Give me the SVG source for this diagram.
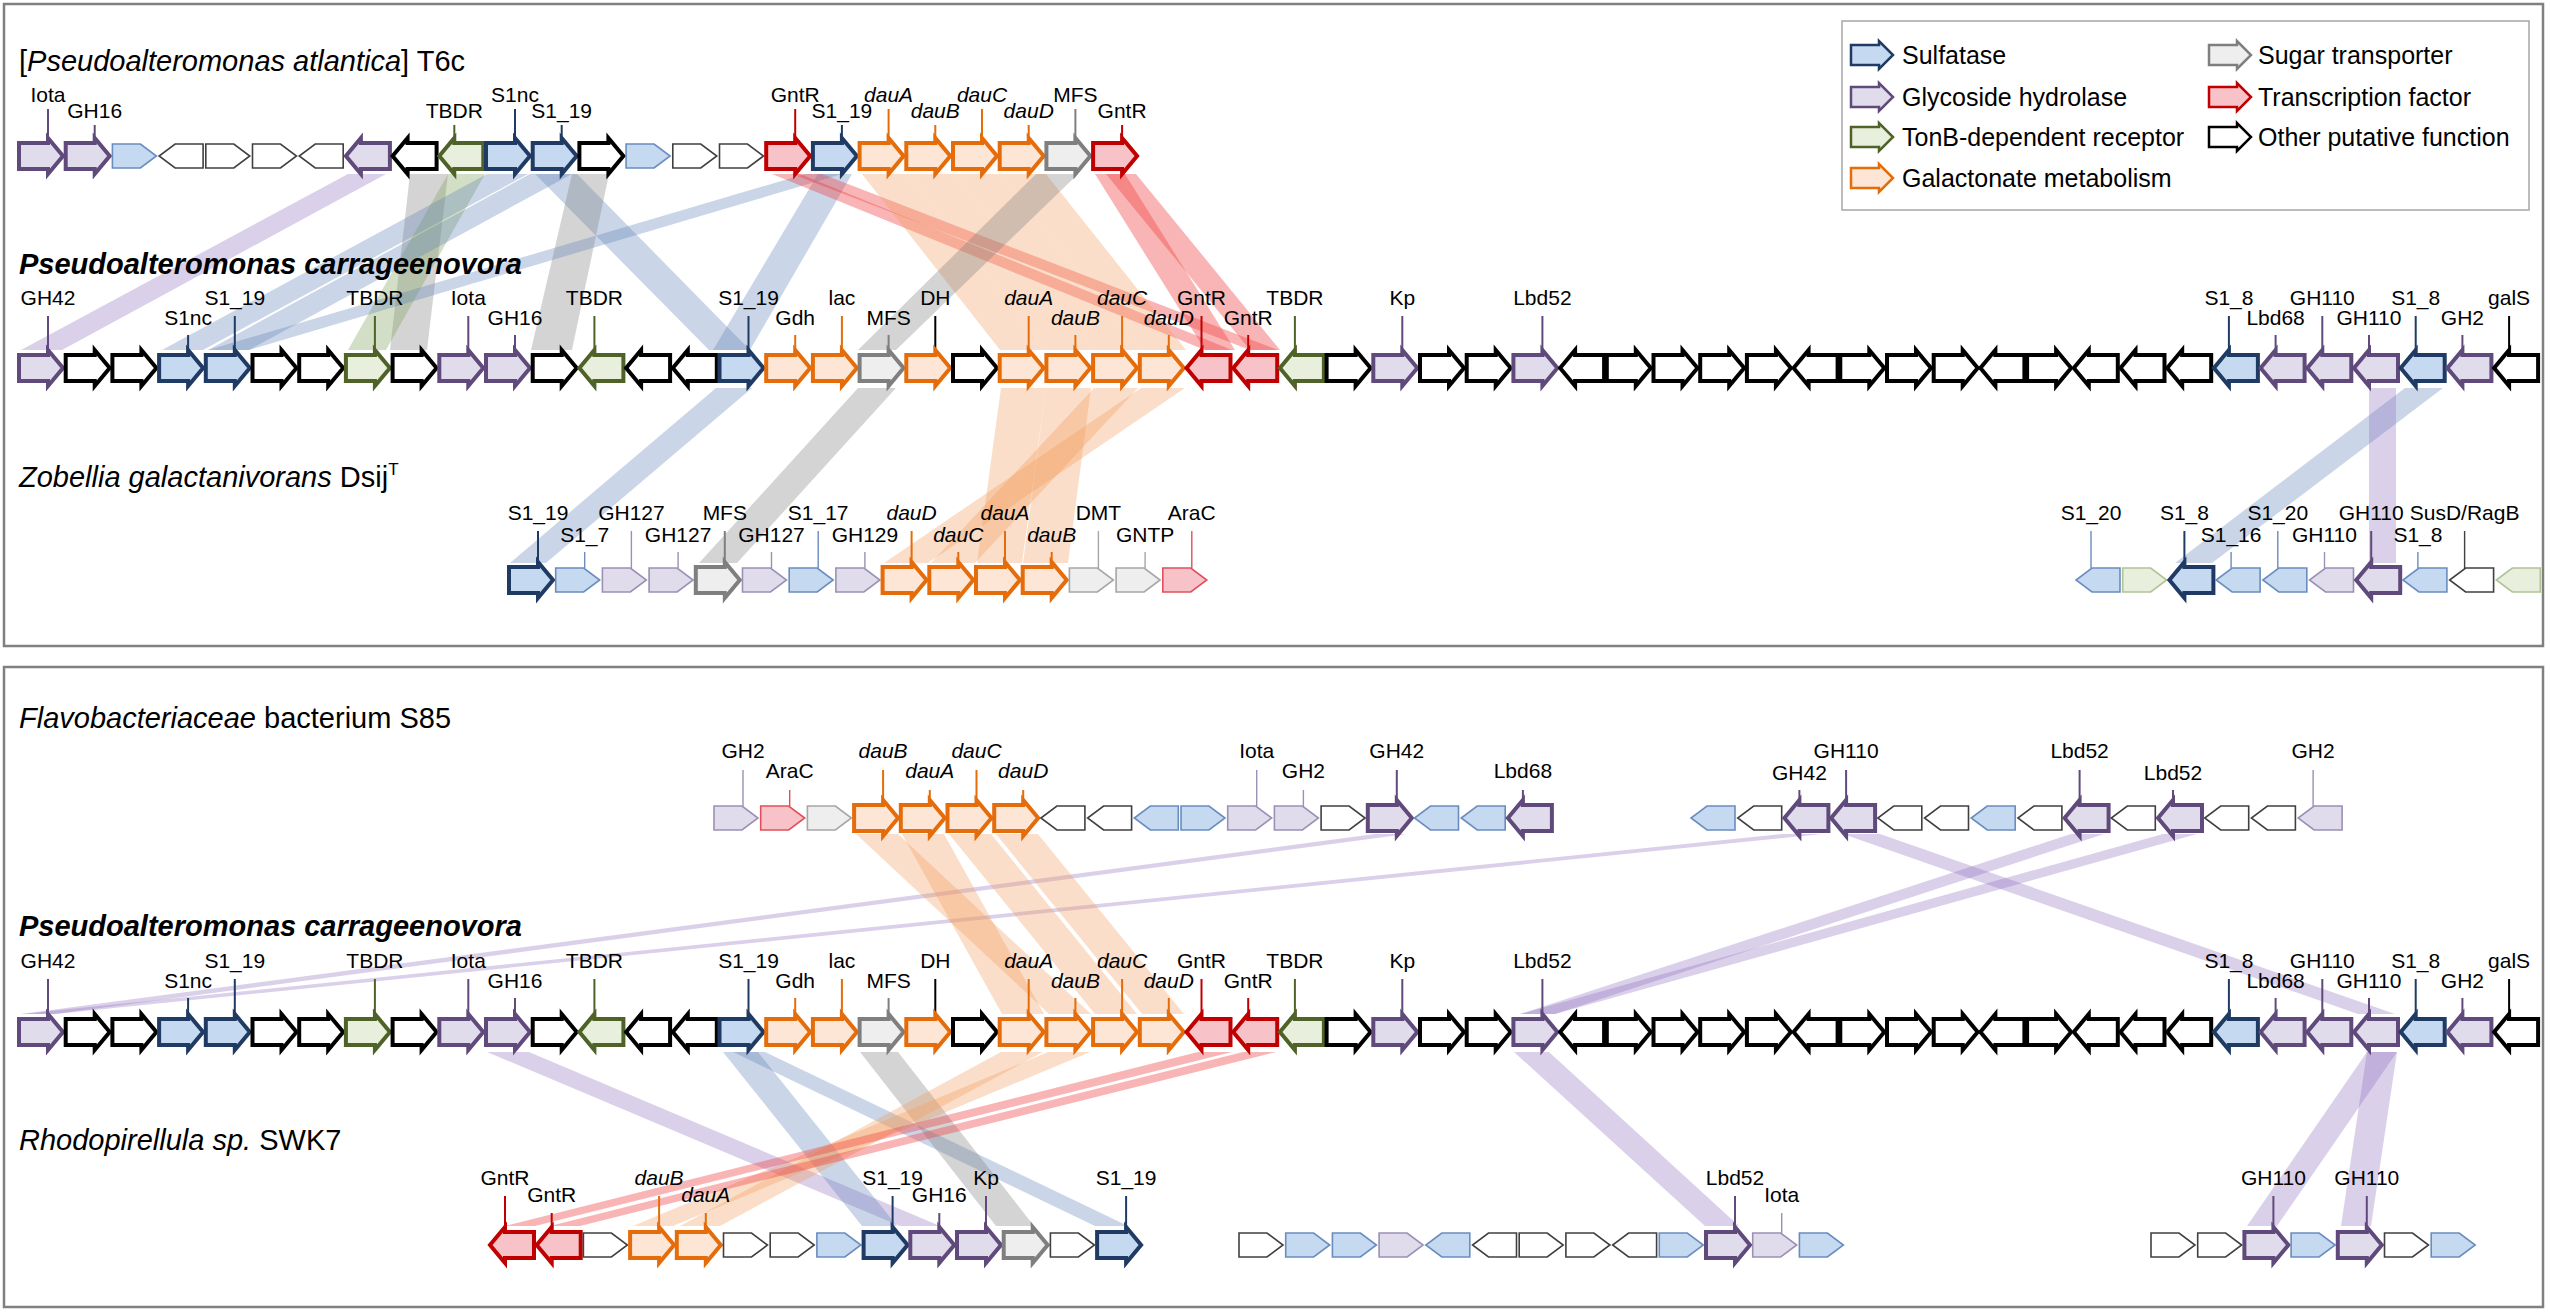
<svg xmlns="http://www.w3.org/2000/svg" width="2550" height="1313" viewBox="0 0 2550 1313">
<style>
.sul{fill:#c5d9f1;stroke:#1f3b63;stroke-width:4}
.gh{fill:#e1dcec;stroke:#604a7b;stroke-width:4}
.tbdr{fill:#e8efdc;stroke:#4f6228;stroke-width:4}
.gal{fill:#fde6d5;stroke:#e46c0a;stroke-width:4}
.sug{fill:#eeeeee;stroke:#7f7f7f;stroke-width:4}
.tf{fill:#f8c3c8;stroke:#c00000;stroke-width:4}
.oth{fill:#ffffff;stroke:#000000;stroke-width:4}
.tsul{fill:#c5d9f1;stroke:#6a8cbf;stroke-width:1.6}
.tgh{fill:#e1dcec;stroke:#9b90b5;stroke-width:1.6}
.ttbdr{fill:#e8efdc;stroke:#b2c396;stroke-width:1.6}
.tsug{fill:#eeeeee;stroke:#a6a6a6;stroke-width:1.6}
.ttf{fill:#f8c3c8;stroke:#e0505a;stroke-width:1.6}
.toth{fill:#ffffff;stroke:#404040;stroke-width:1.6}
use{stroke-linejoin:miter;stroke-miterlimit:10}
line{stroke-width:2}
.ls{stroke:#1f3b63}.lg{stroke:#604a7b}.lt{stroke:#4f6228}.lo{stroke:#e46c0a}.lm{stroke:#7f7f7f}.lr{stroke:#c00000}.lk{stroke:#000}
.tls{stroke:#6a8cbf;stroke-width:1.4}.tlg{stroke:#9b90b5;stroke-width:1.4}.tlm{stroke:#a6a6a6;stroke-width:1.4}.tlr{stroke:#e0505a;stroke-width:1.4}.tlk{stroke:#404040;stroke-width:1.4}
text{font-family:"Liberation Sans",Arial,sans-serif;fill:#000}
.lb{font-size:21px;text-anchor:middle}
.i{font-style:italic}
.tt{font-size:29px}
.leg{font-size:25px}
.panel{fill:none;stroke:#808080;stroke-width:2.5}
.cp{fill:#8e6fc0;fill-opacity:.33}
.cb{fill:#5f82b8;fill-opacity:.33}
.cg{fill:#7a7a7a;fill-opacity:.32}
.cgr{fill:#7fa05a;fill-opacity:.35}
.co{fill:#f39a5c;fill-opacity:.33}
.cr{fill:#f03c3c;fill-opacity:.38}
</style>
<defs>
<path id="R" d="M0,-13H29V-18L44,0L29,18V13H0Z"/>
<path id="L" d="M44,-13H15V-18L0,0L15,18V13H44Z"/>
<path id="r" d="M0,-12H28L44,0L28,12H0Z"/>
<path id="l" d="M44,-12H16L0,0L16,12H44Z"/>
<path id="I" d="M0,-10H28V-14L42,0L28,14V10H0Z"/>
</defs>
<rect x="0" y="0" width="2550" height="1313" fill="#ffffff"/>
<rect class="panel" x="4" y="4" width="2539" height="642"/>
<rect class="panel" x="4" y="667" width="2539" height="640"/>

<g id="connectors">
<polygon class="cp" points="348,174 386,174 62,350 21,350"/>
<polygon class="cg" points="410,174 448,174 427,350 390,350"/>
<polygon class="cgr" points="448,174 485,174 386,350 348,350"/>
<polygon class="cb" points="487,174 528,174 203,350 162,350"/>
<polygon class="cb" points="530,174 572,174 249,350 208,350"/>
<polygon class="cb" points="535,174 577,174 750,350 709,350"/>
<polygon class="cg" points="572,174 609,174 572,350 531,350"/>
<polygon class="cb" points="805,174 842,174 249,350 208,350"/>
<polygon class="cb" points="818,174 852,174 750,350 713,350"/>
<polygon class="cr" points="772,174 800,174 1232,350 1205,350"/>
<polygon class="cr" points="792,174 822,174 1278,350 1250,350"/>
<polygon class="co" points="862,174 908,174 1046,350 1000,350"/>
<polygon class="co" points="908,174 955,174 1093,350 1046,350"/>
<polygon class="co" points="955,174 1001,174 1140,350 1093,350"/>
<polygon class="co" points="1001,174 1046,174 1186,350 1140,350"/>
<polygon class="cg" points="1036,174 1078,174 896,350 858,350"/>
<polygon class="cr" points="1095,174 1125,174 1235,350 1205,350"/>
<polygon class="cr" points="1106,174 1136,174 1280,350 1250,350"/>
<polygon class="cb" points="716,388 752,388 546,563 510,563"/>
<polygon class="cg" points="858,388 896,388 737,563 699,563"/>
<polygon class="co" points="1001,388 1046,388 1022,563 977,563"/>
<polygon class="co" points="1046,388 1091,388 1068,563 1023,563"/>
<polygon class="co" points="1094,388 1138,388 975,563 931,563"/>
<polygon class="co" points="1141,388 1185,388 928,563 884,563"/>
<polygon class="cb" points="2405,388 2443,388 2212,563 2175,563"/>
<polygon class="cp" points="2369,388 2396,388 2396,563 2369,563"/>
<polygon class="cp" points="1375,834 1407,834 55,1014 21,1014"/>
<polygon class="cp" points="1783,834 1822,834 55,1014 21,1014"/>
<polygon class="cp" points="1843,834 1880,834 2395,1014 2358,1014"/>
<polygon class="cp" points="2071,834 2104,834 1555,1014 1520,1014"/>
<polygon class="cp" points="2163,834 2197,834 1555,1014 1520,1014"/>
<polygon class="co" points="856,834 898,834 1091,1014 1049,1014"/>
<polygon class="co" points="902,834 944,834 1044,1014 1002,1014"/>
<polygon class="co" points="949,834 991,834 1137,1014 1095,1014"/>
<polygon class="co" points="996,834 1038,834 1184,1014 1142,1014"/>
<polygon class="cp" points="487,1052 529,1052 940,1226 900,1226"/>
<polygon class="cb" points="723,1052 758,1052 897,1226 862,1226"/>
<polygon class="cb" points="733,1052 765,1052 1128,1226 1095,1226"/>
<polygon class="cg" points="860,1052 898,1052 1034,1226 996,1226"/>
<polygon class="co" points="1001,1052 1043,1052 720,1226 680,1226"/>
<polygon class="co" points="1048,1052 1090,1052 673,1226 633,1226"/>
<polygon class="cr" points="1198,1052 1232,1052 535,1226 505,1226"/>
<polygon class="cr" points="1243,1052 1276,1052 580,1226 550,1226"/>
<polygon class="cp" points="1514,1052 1549,1052 1739,1226 1705,1226"/>
<polygon class="cp" points="2367,1052 2397,1052 2277,1226 2247,1226"/>
<polygon class="cp" points="2367,1052 2397,1052 2371,1226 2341,1226"/>
</g>

<g id="titles">
<text class="tt" x="19" y="71">[<tspan class="i">Pseudoalteromonas atlantica</tspan>] T6c</text>
<text class="tt i" x="19" y="274" font-weight="bold">Pseudoalteromonas carrageenovora</text>
<text class="tt" x="19" y="487"><tspan class="i">Zobellia galactanivorans</tspan> Dsij<tspan font-size="17" dy="-12">T</tspan></text>
<text class="tt" x="19" y="728"><tspan class="i">Flavobacteriaceae</tspan> bacterium S85</text>
<text class="tt i" x="19" y="936" font-weight="bold">Pseudoalteromonas carrageenovora</text>
<text class="tt" x="19" y="1150"><tspan class="i">Rhodopirellula sp.</tspan> SWK7</text>
</g>

<g id="legend">
<rect x="1842" y="21" width="687" height="189" fill="#ffffff" stroke="#a6a6a6" stroke-width="1.5"/>
<g id="leg-sul"><use href="#I" x="1851" y="55" class="sul" style="stroke-width:2.5"/><text class="leg" x="1902" y="64">Sulfatase</text></g>
<g id="leg-gh"><use href="#I" x="1851" y="97" class="gh" style="stroke-width:2.5"/><text class="leg" x="1902" y="106">Glycoside hydrolase</text></g>
<g id="leg-tbdr"><use href="#I" x="1851" y="137" class="tbdr" style="stroke-width:2.5"/><text class="leg" x="1902" y="146">TonB-dependent receptor</text></g>
<g id="leg-gal"><use href="#I" x="1851" y="178" class="gal" style="stroke-width:2.5"/><text class="leg" x="1902" y="187">Galactonate metabolism</text></g>
<g id="leg-sug"><use href="#I" x="2209" y="55" class="sug" style="stroke-width:2.5"/><text class="leg" x="2258" y="64">Sugar transporter</text></g>
<g id="leg-tf"><use href="#I" x="2209" y="97" class="tf" style="stroke-width:2.5"/><text class="leg" x="2258" y="106">Transcription factor</text></g>
<g id="leg-oth"><use href="#I" x="2209" y="137" class="oth" style="stroke-width:2.5"/><text class="leg" x="2258" y="146">Other putative function</text></g>
</g>

<g id="atlantica">
<g id="at00"><line class="lg" x1="48" y1="109" x2="48" y2="143"/><use href="#R" x="19" y="156" class="gh"/><text class="lb" x="48" y="102">Iota</text></g>
<g id="at01"><line class="lg" x1="94.7" y1="125" x2="94.7" y2="143"/><use href="#R" x="65.7" y="156" class="gh"/><text class="lb" x="94.7" y="118">GH16</text></g>
<g id="at02"><use href="#r" x="112.4" y="156" class="tsul"/></g>
<g id="at03"><use href="#l" x="159.1" y="156" class="toth"/></g>
<g id="at04"><use href="#r" x="205.8" y="156" class="toth"/></g>
<g id="at05"><use href="#r" x="252.5" y="156" class="toth"/></g>
<g id="at06"><use href="#l" x="299.2" y="156" class="toth"/></g>
<g id="at07"><use href="#L" x="345.9" y="156" class="gh"/></g>
<g id="at08"><use href="#L" x="392.6" y="156" class="oth"/></g>
<g id="at09"><line class="lt" x1="454.3" y1="125" x2="454.3" y2="143"/><use href="#L" x="439.3" y="156" class="tbdr"/><text class="lb" x="454.3" y="118">TBDR</text></g>
<g id="at10"><line class="ls" x1="515" y1="109" x2="515" y2="143"/><use href="#R" x="486" y="156" class="sul"/><text class="lb" x="515" y="102">S1nc</text></g>
<g id="at11"><line class="ls" x1="561.7" y1="125" x2="561.7" y2="143"/><use href="#R" x="532.7" y="156" class="sul"/><text class="lb" x="561.7" y="118">S1_19</text></g>
<g id="at12"><use href="#R" x="579.4" y="156" class="oth"/></g>
<g id="at13"><use href="#r" x="626.1" y="156" class="tsul"/></g>
<g id="at14"><use href="#r" x="672.8" y="156" class="toth"/></g>
<g id="at15"><use href="#r" x="719.5" y="156" class="toth"/></g>
<g id="at16"><line class="lr" x1="795.2" y1="109" x2="795.2" y2="143"/><use href="#R" x="766.2" y="156" class="tf"/><text class="lb" x="795.2" y="102">GntR</text></g>
<g id="at17"><line class="ls" x1="841.9" y1="125" x2="841.9" y2="143"/><use href="#R" x="812.9" y="156" class="sul"/><text class="lb" x="841.9" y="118">S1_19</text></g>
<g id="at18"><line class="lo" x1="888.6" y1="109" x2="888.6" y2="143"/><use href="#R" x="859.6" y="156" class="gal"/><text class="lb i" x="888.6" y="102">dauA</text></g>
<g id="at19"><line class="lo" x1="935.3" y1="125" x2="935.3" y2="143"/><use href="#R" x="906.3" y="156" class="gal"/><text class="lb i" x="935.3" y="118">dauB</text></g>
<g id="at20"><line class="lo" x1="982" y1="109" x2="982" y2="143"/><use href="#R" x="953" y="156" class="gal"/><text class="lb i" x="982" y="102">dauC</text></g>
<g id="at21"><line class="lo" x1="1028.7" y1="125" x2="1028.7" y2="143"/><use href="#R" x="999.7" y="156" class="gal"/><text class="lb i" x="1028.7" y="118">dauD</text></g>
<g id="at22"><line class="lm" x1="1075.4" y1="109" x2="1075.4" y2="143"/><use href="#R" x="1046.4" y="156" class="sug"/><text class="lb" x="1075.4" y="102">MFS</text></g>
<g id="at23"><line class="lr" x1="1122.1" y1="125" x2="1122.1" y2="143"/><use href="#R" x="1093.1" y="156" class="tf"/><text class="lb" x="1122.1" y="118">GntR</text></g>
</g>

<g id="carrageenovora-top">
<g id="cA00"><line class="lg" x1="48" y1="316" x2="48" y2="355"/><use href="#R" x="19" y="368" class="gh"/><text class="lb" x="48" y="305">GH42</text></g>
<g id="cA01"><use href="#R" x="65.7" y="368" class="oth"/></g>
<g id="cA02"><use href="#R" x="112.4" y="368" class="oth"/></g>
<g id="cA03"><line class="ls" x1="188.1" y1="335" x2="188.1" y2="355"/><use href="#R" x="159.1" y="368" class="sul"/><text class="lb" x="188.1" y="325">S1nc</text></g>
<g id="cA04"><line class="ls" x1="234.8" y1="316" x2="234.8" y2="355"/><use href="#R" x="205.8" y="368" class="sul"/><text class="lb" x="234.8" y="305">S1_19</text></g>
<g id="cA05"><use href="#R" x="252.5" y="368" class="oth"/></g>
<g id="cA06"><use href="#R" x="299.2" y="368" class="oth"/></g>
<g id="cA07"><line class="lt" x1="374.9" y1="316" x2="374.9" y2="355"/><use href="#R" x="345.9" y="368" class="tbdr"/><text class="lb" x="374.9" y="305">TBDR</text></g>
<g id="cA08"><use href="#R" x="392.6" y="368" class="oth"/></g>
<g id="cA09"><line class="lg" x1="468.3" y1="316" x2="468.3" y2="355"/><use href="#R" x="439.3" y="368" class="gh"/><text class="lb" x="468.3" y="305">Iota</text></g>
<g id="cA10"><line class="lg" x1="515" y1="335" x2="515" y2="355"/><use href="#R" x="486" y="368" class="gh"/><text class="lb" x="515" y="325">GH16</text></g>
<g id="cA11"><use href="#R" x="532.7" y="368" class="oth"/></g>
<g id="cA12"><line class="lt" x1="594.4" y1="316" x2="594.4" y2="355"/><use href="#L" x="579.4" y="368" class="tbdr"/><text class="lb" x="594.4" y="305">TBDR</text></g>
<g id="cA13"><use href="#L" x="626.1" y="368" class="oth"/></g>
<g id="cA14"><use href="#L" x="672.8" y="368" class="oth"/></g>
<g id="cA15"><line class="ls" x1="748.5" y1="316" x2="748.5" y2="355"/><use href="#R" x="719.5" y="368" class="sul"/><text class="lb" x="748.5" y="305">S1_19</text></g>
<g id="cA16"><line class="lo" x1="795.2" y1="335" x2="795.2" y2="355"/><use href="#R" x="766.2" y="368" class="gal"/><text class="lb" x="795.2" y="325">Gdh</text></g>
<g id="cA17"><line class="lo" x1="841.9" y1="316" x2="841.9" y2="355"/><use href="#R" x="812.9" y="368" class="gal"/><text class="lb" x="841.9" y="305">lac</text></g>
<g id="cA18"><line class="lm" x1="888.6" y1="335" x2="888.6" y2="355"/><use href="#R" x="859.6" y="368" class="sug"/><text class="lb" x="888.6" y="325">MFS</text></g>
<g id="cA19"><line class="lk" x1="935.3" y1="316" x2="935.3" y2="355"/><use href="#R" x="906.3" y="368" class="gal"/><text class="lb" x="935.3" y="305">DH</text></g>
<g id="cA20"><use href="#R" x="953" y="368" class="oth"/></g>
<g id="cA21"><line class="lo" x1="1028.7" y1="316" x2="1028.7" y2="355"/><use href="#R" x="999.7" y="368" class="gal"/><text class="lb i" x="1028.7" y="305">dauA</text></g>
<g id="cA22"><line class="lo" x1="1075.4" y1="335" x2="1075.4" y2="355"/><use href="#R" x="1046.4" y="368" class="gal"/><text class="lb i" x="1075.4" y="325">dauB</text></g>
<g id="cA23"><line class="lo" x1="1122.1" y1="316" x2="1122.1" y2="355"/><use href="#R" x="1093.1" y="368" class="gal"/><text class="lb i" x="1122.1" y="305">dauC</text></g>
<g id="cA24"><line class="lo" x1="1168.8" y1="335" x2="1168.8" y2="355"/><use href="#R" x="1139.8" y="368" class="gal"/><text class="lb i" x="1168.8" y="325">dauD</text></g>
<g id="cA25"><line class="lr" x1="1201.5" y1="316" x2="1201.5" y2="355"/><use href="#L" x="1186.5" y="368" class="tf"/><text class="lb" x="1201.5" y="305">GntR</text></g>
<g id="cA26"><line class="lr" x1="1248.2" y1="335" x2="1248.2" y2="355"/><use href="#L" x="1233.2" y="368" class="tf"/><text class="lb" x="1248.2" y="325">GntR</text></g>
<g id="cA27"><line class="lt" x1="1294.9" y1="316" x2="1294.9" y2="355"/><use href="#L" x="1279.9" y="368" class="tbdr"/><text class="lb" x="1294.9" y="305">TBDR</text></g>
<g id="cA28"><use href="#R" x="1326.6" y="368" class="oth"/></g>
<g id="cA29"><line class="lg" x1="1402.3" y1="316" x2="1402.3" y2="355"/><use href="#R" x="1373.3" y="368" class="gh"/><text class="lb" x="1402.3" y="305">Kp</text></g>
<g id="cA30"><use href="#R" x="1420" y="368" class="oth"/></g>
<g id="cA31"><use href="#R" x="1466.7" y="368" class="oth"/></g>
<g id="cA32"><line class="lg" x1="1542.4" y1="316" x2="1542.4" y2="355"/><use href="#R" x="1513.4" y="368" class="gh"/><text class="lb" x="1542.4" y="305">Lbd52</text></g>
<g id="cA33"><use href="#L" x="1560.1" y="368" class="oth"/></g>
<g id="cA34"><use href="#R" x="1606.8" y="368" class="oth"/></g>
<g id="cA35"><use href="#R" x="1653.5" y="368" class="oth"/></g>
<g id="cA36"><use href="#R" x="1700.2" y="368" class="oth"/></g>
<g id="cA37"><use href="#R" x="1746.9" y="368" class="oth"/></g>
<g id="cA38"><use href="#L" x="1793.6" y="368" class="oth"/></g>
<g id="cA39"><use href="#R" x="1840.3" y="368" class="oth"/></g>
<g id="cA40"><use href="#R" x="1887" y="368" class="oth"/></g>
<g id="cA41"><use href="#R" x="1933.7" y="368" class="oth"/></g>
<g id="cA42"><use href="#L" x="1980.4" y="368" class="oth"/></g>
<g id="cA43"><use href="#R" x="2027.1" y="368" class="oth"/></g>
<g id="cA44"><use href="#L" x="2073.8" y="368" class="oth"/></g>
<g id="cA45"><use href="#L" x="2120.5" y="368" class="oth"/></g>
<g id="cA46"><use href="#L" x="2167.2" y="368" class="oth"/></g>
<g id="cA47"><line class="ls" x1="2228.9" y1="316" x2="2228.9" y2="355"/><use href="#L" x="2213.9" y="368" class="sul"/><text class="lb" x="2228.9" y="305">S1_8</text></g>
<g id="cA48"><line class="lg" x1="2275.6" y1="335" x2="2275.6" y2="355"/><use href="#L" x="2260.6" y="368" class="gh"/><text class="lb" x="2275.6" y="325">Lbd68</text></g>
<g id="cA49"><line class="lg" x1="2322.3" y1="316" x2="2322.3" y2="355"/><use href="#L" x="2307.3" y="368" class="gh"/><text class="lb" x="2322.3" y="305">GH110</text></g>
<g id="cA50"><line class="lg" x1="2369" y1="335" x2="2369" y2="355"/><use href="#L" x="2354" y="368" class="gh"/><text class="lb" x="2369" y="325">GH110</text></g>
<g id="cA51"><line class="ls" x1="2415.7" y1="316" x2="2415.7" y2="355"/><use href="#L" x="2400.7" y="368" class="sul"/><text class="lb" x="2415.7" y="305">S1_8</text></g>
<g id="cA52"><line class="lg" x1="2462.4" y1="335" x2="2462.4" y2="355"/><use href="#L" x="2447.4" y="368" class="gh"/><text class="lb" x="2462.4" y="325">GH2</text></g>
<g id="cA53"><line class="lk" x1="2509.1" y1="316" x2="2509.1" y2="355"/><use href="#L" x="2494.1" y="368" class="oth"/><text class="lb" x="2509.1" y="305">galS</text></g>
</g>

<g id="zobellia">
<g id="zb00"><line class="ls" x1="538" y1="531" x2="538" y2="567"/><use href="#R" x="509" y="580" class="sul"/><text class="lb" x="538" y="520">S1_19</text></g>
<g id="zb01"><line class="tls" x1="584.7" y1="552" x2="584.7" y2="568"/><use href="#r" x="555.7" y="580" class="tsul"/><text class="lb" x="584.7" y="542">S1_7</text></g>
<g id="zb02"><line class="tlg" x1="631.4" y1="531" x2="631.4" y2="568"/><use href="#r" x="602.4" y="580" class="tgh"/><text class="lb" x="631.4" y="520">GH127</text></g>
<g id="zb03"><line class="tlg" x1="678.1" y1="552" x2="678.1" y2="568"/><use href="#r" x="649.1" y="580" class="tgh"/><text class="lb" x="678.1" y="542">GH127</text></g>
<g id="zb04"><line class="lm" x1="724.8" y1="531" x2="724.8" y2="567"/><use href="#R" x="695.8" y="580" class="sug"/><text class="lb" x="724.8" y="520">MFS</text></g>
<g id="zb05"><line class="tlg" x1="771.5" y1="552" x2="771.5" y2="568"/><use href="#r" x="742.5" y="580" class="tgh"/><text class="lb" x="771.5" y="542">GH127</text></g>
<g id="zb06"><line class="tls" x1="818.2" y1="531" x2="818.2" y2="568"/><use href="#r" x="789.2" y="580" class="tsul"/><text class="lb" x="818.2" y="520">S1_17</text></g>
<g id="zb07"><line class="tlg" x1="864.9" y1="552" x2="864.9" y2="568"/><use href="#r" x="835.9" y="580" class="tgh"/><text class="lb" x="864.9" y="542">GH129</text></g>
<g id="zb08"><line class="lo" x1="911.6" y1="531" x2="911.6" y2="567"/><use href="#R" x="882.6" y="580" class="gal"/><text class="lb i" x="911.6" y="520">dauD</text></g>
<g id="zb09"><line class="lo" x1="958.3" y1="552" x2="958.3" y2="567"/><use href="#R" x="929.3" y="580" class="gal"/><text class="lb i" x="958.3" y="542">dauC</text></g>
<g id="zb10"><line class="lo" x1="1005" y1="531" x2="1005" y2="567"/><use href="#R" x="976" y="580" class="gal"/><text class="lb i" x="1005" y="520">dauA</text></g>
<g id="zb11"><line class="lo" x1="1051.7" y1="552" x2="1051.7" y2="567"/><use href="#R" x="1022.7" y="580" class="gal"/><text class="lb i" x="1051.7" y="542">dauB</text></g>
<g id="zb12"><line class="tlm" x1="1098.4" y1="531" x2="1098.4" y2="568"/><use href="#r" x="1069.4" y="580" class="tsug"/><text class="lb" x="1098.4" y="520">DMT</text></g>
<g id="zb13"><line class="tlm" x1="1145.1" y1="552" x2="1145.1" y2="568"/><use href="#r" x="1116.1" y="580" class="tsug"/><text class="lb" x="1145.1" y="542">GNTP</text></g>
<g id="zb14"><line class="tlr" x1="1191.8" y1="531" x2="1191.8" y2="568"/><use href="#r" x="1162.8" y="580" class="ttf"/><text class="lb" x="1191.8" y="520">AraC</text></g>
<g id="zb20"><line class="tls" x1="2091" y1="531" x2="2091" y2="568"/><use href="#l" x="2076" y="580" class="tsul"/><text class="lb" x="2091" y="520">S1_20</text></g>
<g id="zb21"><use href="#r" x="2122.7" y="580" class="ttbdr"/></g>
<g id="zb22"><line class="ls" x1="2184.4" y1="531" x2="2184.4" y2="567"/><use href="#L" x="2169.4" y="580" class="sul"/><text class="lb" x="2184.4" y="520">S1_8</text></g>
<g id="zb23"><line class="tls" x1="2231.1" y1="552" x2="2231.1" y2="568"/><use href="#l" x="2216.1" y="580" class="tsul"/><text class="lb" x="2231.1" y="542">S1_16</text></g>
<g id="zb24"><line class="tls" x1="2277.8" y1="531" x2="2277.8" y2="568"/><use href="#l" x="2262.8" y="580" class="tsul"/><text class="lb" x="2277.8" y="520">S1_20</text></g>
<g id="zb25"><line class="tlg" x1="2324.5" y1="552" x2="2324.5" y2="568"/><use href="#l" x="2309.5" y="580" class="tgh"/><text class="lb" x="2324.5" y="542">GH110</text></g>
<g id="zb26"><line class="lg" x1="2371.2" y1="531" x2="2371.2" y2="567"/><use href="#L" x="2356.2" y="580" class="gh"/><text class="lb" x="2371.2" y="520">GH110</text></g>
<g id="zb27"><line class="tls" x1="2417.9" y1="552" x2="2417.9" y2="568"/><use href="#l" x="2402.9" y="580" class="tsul"/><text class="lb" x="2417.9" y="542">S1_8</text></g>
<g id="zb28"><line class="tlk" x1="2464.6" y1="531" x2="2464.6" y2="568"/><use href="#l" x="2449.6" y="580" class="toth"/><text class="lb" x="2464.6" y="520">SusD/RagB</text></g>
<g id="zb29"><use href="#l" x="2496.3" y="580" class="ttbdr"/></g>
</g>

<g id="flavobacteriaceae">
<g id="s00"><line class="tlg" x1="743" y1="770" x2="743" y2="806"/><use href="#r" x="714" y="818" class="tgh"/><text class="lb" x="743" y="758">GH2</text></g>
<g id="s01"><line class="tlr" x1="789.7" y1="790" x2="789.7" y2="806"/><use href="#r" x="760.7" y="818" class="ttf"/><text class="lb" x="789.7" y="778">AraC</text></g>
<g id="s02"><use href="#r" x="807.4" y="818" class="tsug"/></g>
<g id="s03"><line class="lo" x1="883.1" y1="770" x2="883.1" y2="805"/><use href="#R" x="854.1" y="818" class="gal"/><text class="lb i" x="883.1" y="758">dauB</text></g>
<g id="s04"><line class="lo" x1="929.8" y1="790" x2="929.8" y2="805"/><use href="#R" x="900.8" y="818" class="gal"/><text class="lb i" x="929.8" y="778">dauA</text></g>
<g id="s05"><line class="lo" x1="976.5" y1="770" x2="976.5" y2="805"/><use href="#R" x="947.5" y="818" class="gal"/><text class="lb i" x="976.5" y="758">dauC</text></g>
<g id="s06"><line class="lo" x1="1023.2" y1="790" x2="1023.2" y2="805"/><use href="#R" x="994.2" y="818" class="gal"/><text class="lb i" x="1023.2" y="778">dauD</text></g>
<g id="s07"><use href="#l" x="1040.9" y="818" class="toth"/></g>
<g id="s08"><use href="#l" x="1087.6" y="818" class="toth"/></g>
<g id="s09"><use href="#l" x="1134.3" y="818" class="tsul"/></g>
<g id="s10"><use href="#r" x="1181" y="818" class="tsul"/></g>
<g id="s11"><line class="tlg" x1="1256.7" y1="770" x2="1256.7" y2="806"/><use href="#r" x="1227.7" y="818" class="tgh"/><text class="lb" x="1256.7" y="758">Iota</text></g>
<g id="s12"><line class="tlg" x1="1303.4" y1="790" x2="1303.4" y2="806"/><use href="#r" x="1274.4" y="818" class="tgh"/><text class="lb" x="1303.4" y="778">GH2</text></g>
<g id="s13"><use href="#r" x="1321.1" y="818" class="toth"/></g>
<g id="s14"><line class="lg" x1="1396.8" y1="770" x2="1396.8" y2="805"/><use href="#R" x="1367.8" y="818" class="gh"/><text class="lb" x="1396.8" y="758">GH42</text></g>
<g id="s15"><use href="#l" x="1414.5" y="818" class="tsul"/></g>
<g id="s16"><use href="#l" x="1461.2" y="818" class="tsul"/></g>
<g id="s17"><line class="lg" x1="1522.9" y1="790" x2="1522.9" y2="805"/><use href="#L" x="1507.9" y="818" class="gh"/><text class="lb" x="1522.9" y="778">Lbd68</text></g>
<g id="s20"><use href="#l" x="1691" y="818" class="tsul"/></g>
<g id="s21"><use href="#l" x="1737.7" y="818" class="toth"/></g>
<g id="s22"><line class="lg" x1="1799.4" y1="790" x2="1799.4" y2="805"/><use href="#L" x="1784.4" y="818" class="gh"/><text class="lb" x="1799.4" y="780">GH42</text></g>
<g id="s23"><line class="lg" x1="1846.1" y1="770" x2="1846.1" y2="805"/><use href="#L" x="1831.1" y="818" class="gh"/><text class="lb" x="1846.1" y="758">GH110</text></g>
<g id="s24"><use href="#l" x="1877.8" y="818" class="toth"/></g>
<g id="s25"><use href="#l" x="1924.5" y="818" class="toth"/></g>
<g id="s26"><use href="#l" x="1971.2" y="818" class="tsul"/></g>
<g id="s27"><use href="#l" x="2017.9" y="818" class="toth"/></g>
<g id="s28"><line class="lg" x1="2079.6" y1="770" x2="2079.6" y2="805"/><use href="#L" x="2064.6" y="818" class="gh"/><text class="lb" x="2079.6" y="758">Lbd52</text></g>
<g id="s29"><use href="#l" x="2111.3" y="818" class="toth"/></g>
<g id="s30"><line class="lg" x1="2173" y1="790" x2="2173" y2="805"/><use href="#L" x="2158" y="818" class="gh"/><text class="lb" x="2173" y="780">Lbd52</text></g>
<g id="s31"><use href="#l" x="2204.7" y="818" class="toth"/></g>
<g id="s32"><use href="#l" x="2251.4" y="818" class="toth"/></g>
<g id="s33"><line class="tlg" x1="2313.1" y1="770" x2="2313.1" y2="806"/><use href="#l" x="2298.1" y="818" class="tgh"/><text class="lb" x="2313.1" y="758">GH2</text></g>
</g>

<g id="carrageenovora-bottom">
<g id="cB00"><line class="lg" x1="48" y1="979" x2="48" y2="1019"/><use href="#R" x="19" y="1032" class="gh"/><text class="lb" x="48" y="968">GH42</text></g>
<g id="cB01"><use href="#R" x="65.7" y="1032" class="oth"/></g>
<g id="cB02"><use href="#R" x="112.4" y="1032" class="oth"/></g>
<g id="cB03"><line class="ls" x1="188.1" y1="998" x2="188.1" y2="1019"/><use href="#R" x="159.1" y="1032" class="sul"/><text class="lb" x="188.1" y="988">S1nc</text></g>
<g id="cB04"><line class="ls" x1="234.8" y1="979" x2="234.8" y2="1019"/><use href="#R" x="205.8" y="1032" class="sul"/><text class="lb" x="234.8" y="968">S1_19</text></g>
<g id="cB05"><use href="#R" x="252.5" y="1032" class="oth"/></g>
<g id="cB06"><use href="#R" x="299.2" y="1032" class="oth"/></g>
<g id="cB07"><line class="lt" x1="374.9" y1="979" x2="374.9" y2="1019"/><use href="#R" x="345.9" y="1032" class="tbdr"/><text class="lb" x="374.9" y="968">TBDR</text></g>
<g id="cB08"><use href="#R" x="392.6" y="1032" class="oth"/></g>
<g id="cB09"><line class="lg" x1="468.3" y1="979" x2="468.3" y2="1019"/><use href="#R" x="439.3" y="1032" class="gh"/><text class="lb" x="468.3" y="968">Iota</text></g>
<g id="cB10"><line class="lg" x1="515" y1="998" x2="515" y2="1019"/><use href="#R" x="486" y="1032" class="gh"/><text class="lb" x="515" y="988">GH16</text></g>
<g id="cB11"><use href="#R" x="532.7" y="1032" class="oth"/></g>
<g id="cB12"><line class="lt" x1="594.4" y1="979" x2="594.4" y2="1019"/><use href="#L" x="579.4" y="1032" class="tbdr"/><text class="lb" x="594.4" y="968">TBDR</text></g>
<g id="cB13"><use href="#L" x="626.1" y="1032" class="oth"/></g>
<g id="cB14"><use href="#L" x="672.8" y="1032" class="oth"/></g>
<g id="cB15"><line class="ls" x1="748.5" y1="979" x2="748.5" y2="1019"/><use href="#R" x="719.5" y="1032" class="sul"/><text class="lb" x="748.5" y="968">S1_19</text></g>
<g id="cB16"><line class="lo" x1="795.2" y1="998" x2="795.2" y2="1019"/><use href="#R" x="766.2" y="1032" class="gal"/><text class="lb" x="795.2" y="988">Gdh</text></g>
<g id="cB17"><line class="lo" x1="841.9" y1="979" x2="841.9" y2="1019"/><use href="#R" x="812.9" y="1032" class="gal"/><text class="lb" x="841.9" y="968">lac</text></g>
<g id="cB18"><line class="lm" x1="888.6" y1="998" x2="888.6" y2="1019"/><use href="#R" x="859.6" y="1032" class="sug"/><text class="lb" x="888.6" y="988">MFS</text></g>
<g id="cB19"><line class="lk" x1="935.3" y1="979" x2="935.3" y2="1019"/><use href="#R" x="906.3" y="1032" class="gal"/><text class="lb" x="935.3" y="968">DH</text></g>
<g id="cB20"><use href="#R" x="953" y="1032" class="oth"/></g>
<g id="cB21"><line class="lo" x1="1028.7" y1="979" x2="1028.7" y2="1019"/><use href="#R" x="999.7" y="1032" class="gal"/><text class="lb i" x="1028.7" y="968">dauA</text></g>
<g id="cB22"><line class="lo" x1="1075.4" y1="998" x2="1075.4" y2="1019"/><use href="#R" x="1046.4" y="1032" class="gal"/><text class="lb i" x="1075.4" y="988">dauB</text></g>
<g id="cB23"><line class="lo" x1="1122.1" y1="979" x2="1122.1" y2="1019"/><use href="#R" x="1093.1" y="1032" class="gal"/><text class="lb i" x="1122.1" y="968">dauC</text></g>
<g id="cB24"><line class="lo" x1="1168.8" y1="998" x2="1168.8" y2="1019"/><use href="#R" x="1139.8" y="1032" class="gal"/><text class="lb i" x="1168.8" y="988">dauD</text></g>
<g id="cB25"><line class="lr" x1="1201.5" y1="979" x2="1201.5" y2="1019"/><use href="#L" x="1186.5" y="1032" class="tf"/><text class="lb" x="1201.5" y="968">GntR</text></g>
<g id="cB26"><line class="lr" x1="1248.2" y1="998" x2="1248.2" y2="1019"/><use href="#L" x="1233.2" y="1032" class="tf"/><text class="lb" x="1248.2" y="988">GntR</text></g>
<g id="cB27"><line class="lt" x1="1294.9" y1="979" x2="1294.9" y2="1019"/><use href="#L" x="1279.9" y="1032" class="tbdr"/><text class="lb" x="1294.9" y="968">TBDR</text></g>
<g id="cB28"><use href="#R" x="1326.6" y="1032" class="oth"/></g>
<g id="cB29"><line class="lg" x1="1402.3" y1="979" x2="1402.3" y2="1019"/><use href="#R" x="1373.3" y="1032" class="gh"/><text class="lb" x="1402.3" y="968">Kp</text></g>
<g id="cB30"><use href="#R" x="1420" y="1032" class="oth"/></g>
<g id="cB31"><use href="#R" x="1466.7" y="1032" class="oth"/></g>
<g id="cB32"><line class="lg" x1="1542.4" y1="979" x2="1542.4" y2="1019"/><use href="#R" x="1513.4" y="1032" class="gh"/><text class="lb" x="1542.4" y="968">Lbd52</text></g>
<g id="cB33"><use href="#L" x="1560.1" y="1032" class="oth"/></g>
<g id="cB34"><use href="#R" x="1606.8" y="1032" class="oth"/></g>
<g id="cB35"><use href="#R" x="1653.5" y="1032" class="oth"/></g>
<g id="cB36"><use href="#R" x="1700.2" y="1032" class="oth"/></g>
<g id="cB37"><use href="#R" x="1746.9" y="1032" class="oth"/></g>
<g id="cB38"><use href="#L" x="1793.6" y="1032" class="oth"/></g>
<g id="cB39"><use href="#R" x="1840.3" y="1032" class="oth"/></g>
<g id="cB40"><use href="#R" x="1887" y="1032" class="oth"/></g>
<g id="cB41"><use href="#R" x="1933.7" y="1032" class="oth"/></g>
<g id="cB42"><use href="#L" x="1980.4" y="1032" class="oth"/></g>
<g id="cB43"><use href="#R" x="2027.1" y="1032" class="oth"/></g>
<g id="cB44"><use href="#L" x="2073.8" y="1032" class="oth"/></g>
<g id="cB45"><use href="#L" x="2120.5" y="1032" class="oth"/></g>
<g id="cB46"><use href="#L" x="2167.2" y="1032" class="oth"/></g>
<g id="cB47"><line class="ls" x1="2228.9" y1="979" x2="2228.9" y2="1019"/><use href="#L" x="2213.9" y="1032" class="sul"/><text class="lb" x="2228.9" y="968">S1_8</text></g>
<g id="cB48"><line class="lg" x1="2275.6" y1="998" x2="2275.6" y2="1019"/><use href="#L" x="2260.6" y="1032" class="gh"/><text class="lb" x="2275.6" y="988">Lbd68</text></g>
<g id="cB49"><line class="lg" x1="2322.3" y1="979" x2="2322.3" y2="1019"/><use href="#L" x="2307.3" y="1032" class="gh"/><text class="lb" x="2322.3" y="968">GH110</text></g>
<g id="cB50"><line class="lg" x1="2369" y1="998" x2="2369" y2="1019"/><use href="#L" x="2354" y="1032" class="gh"/><text class="lb" x="2369" y="988">GH110</text></g>
<g id="cB51"><line class="ls" x1="2415.7" y1="979" x2="2415.7" y2="1019"/><use href="#L" x="2400.7" y="1032" class="sul"/><text class="lb" x="2415.7" y="968">S1_8</text></g>
<g id="cB52"><line class="lg" x1="2462.4" y1="998" x2="2462.4" y2="1019"/><use href="#L" x="2447.4" y="1032" class="gh"/><text class="lb" x="2462.4" y="988">GH2</text></g>
<g id="cB53"><line class="lk" x1="2509.1" y1="979" x2="2509.1" y2="1019"/><use href="#L" x="2494.1" y="1032" class="oth"/><text class="lb" x="2509.1" y="968">galS</text></g>
</g>

<g id="rhodopirellula">
<g id="rh00"><line class="lr" x1="505" y1="1196" x2="505" y2="1232"/><use href="#L" x="490" y="1245" class="tf"/><text class="lb" x="505" y="1185">GntR</text></g>
<g id="rh01"><line class="lr" x1="551.7" y1="1213" x2="551.7" y2="1232"/><use href="#L" x="536.7" y="1245" class="tf"/><text class="lb" x="551.7" y="1202">GntR</text></g>
<g id="rh02"><use href="#r" x="583.4" y="1245" class="toth"/></g>
<g id="rh03"><line class="lo" x1="659.1" y1="1196" x2="659.1" y2="1232"/><use href="#R" x="630.1" y="1245" class="gal"/><text class="lb i" x="659.1" y="1185">dauB</text></g>
<g id="rh04"><line class="lo" x1="705.8" y1="1213" x2="705.8" y2="1232"/><use href="#R" x="676.8" y="1245" class="gal"/><text class="lb i" x="705.8" y="1202">dauA</text></g>
<g id="rh05"><use href="#r" x="723.5" y="1245" class="toth"/></g>
<g id="rh06"><use href="#r" x="770.2" y="1245" class="toth"/></g>
<g id="rh07"><use href="#r" x="816.9" y="1245" class="tsul"/></g>
<g id="rh08"><line class="ls" x1="892.6" y1="1196" x2="892.6" y2="1232"/><use href="#R" x="863.6" y="1245" class="sul"/><text class="lb" x="892.6" y="1185">S1_19</text></g>
<g id="rh09"><line class="lg" x1="939.3" y1="1213" x2="939.3" y2="1232"/><use href="#R" x="910.3" y="1245" class="gh"/><text class="lb" x="939.3" y="1202">GH16</text></g>
<g id="rh10"><line class="lg" x1="986" y1="1196" x2="986" y2="1232"/><use href="#R" x="957" y="1245" class="gh"/><text class="lb" x="986" y="1185">Kp</text></g>
<g id="rh11"><use href="#R" x="1003.7" y="1245" class="sug"/></g>
<g id="rh12"><use href="#r" x="1050.4" y="1245" class="toth"/></g>
<g id="rh13"><line class="ls" x1="1126.1" y1="1196" x2="1126.1" y2="1232"/><use href="#R" x="1097.1" y="1245" class="sul"/><text class="lb" x="1126.1" y="1185">S1_19</text></g>
<g id="rh20"><use href="#r" x="1239" y="1245" class="toth"/></g>
<g id="rh21"><use href="#r" x="1285.7" y="1245" class="tsul"/></g>
<g id="rh22"><use href="#r" x="1332.4" y="1245" class="tsul"/></g>
<g id="rh23"><use href="#r" x="1379.1" y="1245" class="tgh"/></g>
<g id="rh24"><use href="#l" x="1425.8" y="1245" class="tsul"/></g>
<g id="rh25"><use href="#l" x="1472.5" y="1245" class="toth"/></g>
<g id="rh26"><use href="#r" x="1519.2" y="1245" class="toth"/></g>
<g id="rh27"><use href="#r" x="1565.9" y="1245" class="toth"/></g>
<g id="rh28"><use href="#l" x="1612.6" y="1245" class="toth"/></g>
<g id="rh29"><use href="#r" x="1659.3" y="1245" class="tsul"/></g>
<g id="rh30"><line class="lg" x1="1735" y1="1196" x2="1735" y2="1232"/><use href="#R" x="1706" y="1245" class="gh"/><text class="lb" x="1735" y="1185">Lbd52</text></g>
<g id="rh31"><line class="tlg" x1="1781.7" y1="1213" x2="1781.7" y2="1233"/><use href="#r" x="1752.7" y="1245" class="tgh"/><text class="lb" x="1781.7" y="1202">Iota</text></g>
<g id="rh32"><use href="#r" x="1799.4" y="1245" class="tsul"/></g>
<g id="rh40"><use href="#r" x="2151" y="1245" class="toth"/></g>
<g id="rh41"><use href="#r" x="2197.7" y="1245" class="toth"/></g>
<g id="rh42"><line class="lg" x1="2273.4" y1="1196" x2="2273.4" y2="1232"/><use href="#R" x="2244.4" y="1245" class="gh"/><text class="lb" x="2273.4" y="1185">GH110</text></g>
<g id="rh43"><use href="#r" x="2291.1" y="1245" class="tsul"/></g>
<g id="rh44"><line class="lg" x1="2366.8" y1="1196" x2="2366.8" y2="1232"/><use href="#R" x="2337.8" y="1245" class="gh"/><text class="lb" x="2366.8" y="1185">GH110</text></g>
<g id="rh45"><use href="#r" x="2384.5" y="1245" class="toth"/></g>
<g id="rh46"><use href="#r" x="2431.2" y="1245" class="tsul"/></g>
</g>
</svg>
